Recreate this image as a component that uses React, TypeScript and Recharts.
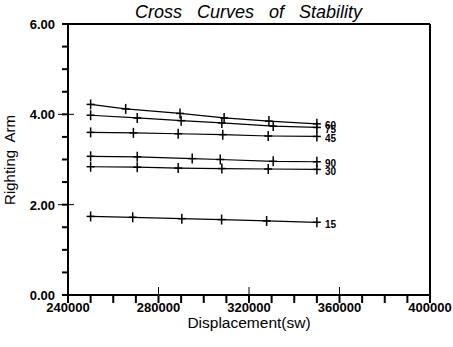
import React from "react";
import { LineChart, Line, XAxis, YAxis, ReferenceLine } from "recharts";

const disp15 = [250000, 268600, 290300, 307900, 327800, 350000];
const arm15 = [1.74, 1.72, 1.69, 1.67, 1.64, 1.61];
const disp30 = [250000, 270600, 288700, 308000, 328500, 350000];
const arm30 = [2.84, 2.83, 2.81, 2.8, 2.79, 2.78];
const disp45 = [250000, 268900, 288700, 308400, 328500, 350000];
const arm45 = [3.6, 3.59, 3.57, 3.55, 3.52, 3.51];
const disp60 = [250000, 265500, 289500, 309000, 328800, 350000];
const arm60 = [4.22, 4.12, 4.02, 3.92, 3.85, 3.79];
const disp75 = [250000, 270600, 290000, 308000, 330700, 350000];
const arm75 = [3.98, 3.92, 3.86, 3.81, 3.74, 3.71];
const disp90 = [250000, 270600, 294900, 307300, 330700, 350000];
const arm90 = [3.07, 3.06, 3.02, 3.0, 2.96, 2.95];

const angles = ["15", "30", "45", "60", "75", "90"];
const xTicks = [240000, 250000, 260000, 270000, 280000, 290000, 300000, 310000, 320000, 330000, 340000, 350000, 360000, 370000, 380000, 390000, 400000];
const xLabeled = [240000, 280000, 320000, 360000, 400000];
const yTicks = [0, 0.5, 1, 1.5, 2, 2.5, 3, 3.5, 4, 4.5, 5, 5.5, 6];
const yLabeled = [0, 2, 4, 6];

const build = (xs: number[], ys: number[]) => xs.map((x, i) => ({ x, y: ys[i] }));

const series = [
  { name: angles[0], data: build(disp15, arm15) },
  { name: angles[1], data: build(disp30, arm30) },
  { name: angles[2], data: build(disp45, arm45) },
  { name: angles[3], data: build(disp60, arm60) },
  { name: angles[4], data: build(disp75, arm75) },
  { name: angles[5], data: build(disp90, arm90) },
];

const FONT = "'Liberation Sans', Arial, Helvetica, sans-serif";

const XTick = (props: any) => {
  const { x, y, payload } = props;
  const v = payload.value;
  const major = xLabeled.includes(v);
  return (
    <g>
      <line x1={x} x2={x} y1={y} y2={y + 8} stroke="#000" strokeWidth={2} />
      {major && v !== 240000 && v !== 400000 && (
        <line x1={x} x2={x} y1={y - 8} y2={y} stroke="#000" strokeWidth={1} />
      )}
      {major && (
        <text x={x} y={y + 17} textAnchor="middle" fontFamily={FONT} fontWeight="bold" fontSize={13} fill="#000">
          {String(v)}
        </text>
      )}
    </g>
  );
};

const YTick = (props: any) => {
  const { x, y, payload } = props;
  const v = payload.value;
  const major = yLabeled.includes(v);
  return (
    <g>
      <line x1={x - 6} x2={x} y1={y} y2={y} stroke="#000" strokeWidth={2} />
      {major && v !== 6 && v !== 0 && (
        <line x1={x - 10} x2={x + 6} y1={y} y2={y} stroke="#000" strokeWidth={1} />
      )}
      {major && (
        <text x={x - 13} y={y + 5} textAnchor="end" fontFamily={FONT} fontWeight="bold" fontSize={13} fill="#000">
          {v.toFixed(2)}
        </text>
      )}
    </g>
  );
};

const makeDot = (label: string, count: number) => (props: any) => {
  const { cx, cy, index } = props;
  return (
    <g key={`d-${label}-${index}`}>
      <line x1={cx - 4} x2={cx + 4} y1={cy} y2={cy} stroke="#000" strokeWidth={1.5} />
      <line x1={cx} x2={cx} y1={cy - 5} y2={cy + 5} stroke="#000" strokeWidth={1.5} />
      {index === count - 1 && (
        <text x={cx + 8} y={cy + 2} dominantBaseline="central" fontFamily={FONT} fontWeight="bold" fontSize={10} fill="#000">
          {label}
        </text>
      )}
    </g>
  );
};

export default function App() {
  return (
    <div style={{ position: "absolute", left: 0, top: 0, width: 453, height: 347, background: "#fff" }}>
      <LineChart width={453} height={347} margin={{ top: 24, right: 23, bottom: 22, left: 0 }}>
        <XAxis
          type="number"
          dataKey="x"
          domain={[240000, 400000]}
          ticks={xTicks}
          interval={0}
          tickSize={0}
          tickMargin={0}
          tick={<XTick />}
          axisLine={{ stroke: "#000", strokeWidth: 2 }}
          height={30}
          allowDataOverflow
        />
        <YAxis
          type="number"
          dataKey="y"
          domain={[0, 6]}
          ticks={yTicks}
          interval={0}
          tickSize={0}
          tickMargin={0}
          tick={<YTick />}
          axisLine={{ stroke: "#000", strokeWidth: 2 }}
          width={68}
          allowDataOverflow
        />
        <ReferenceLine y={6} stroke="#000" strokeWidth={2} />
        <ReferenceLine x={400000} stroke="#000" strokeWidth={2} />
        {series.map((s) => (
          <Line
            key={s.name}
            data={s.data}
            dataKey="y"
            type="linear"
            stroke="#000"
            strokeWidth={1.2}
            dot={makeDot(s.name, s.data.length)}
            activeDot={false}
            isAnimationActive={false}
          />
        ))}
        <text x={135} y={18} fontFamily={FONT} fontStyle="italic" fontSize={18} wordSpacing={10} fill="#000">
          Cross Curves of Stability
        </text>
        <text x={249} y={328} textAnchor="middle" fontFamily={FONT} fontSize={15.5} fill="#000">
          Displacement(sw)
        </text>
        <text
          x={0}
          y={0}
          transform="translate(15,160) rotate(-90)"
          textAnchor="middle"
          fontFamily={FONT}
          fontSize={15}
          wordSpacing={4}
          fill="#000"
        >
          Righting Arm
        </text>
      </LineChart>
    </div>
  );
}
